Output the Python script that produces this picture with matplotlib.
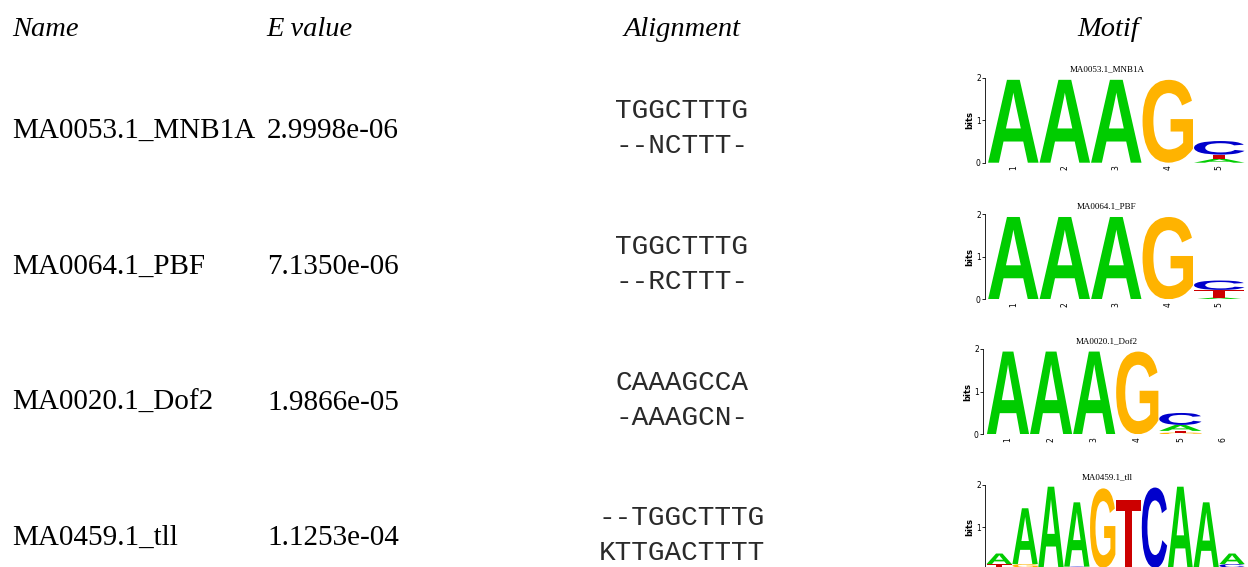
import matplotlib
matplotlib.use("Agg")
import matplotlib.pyplot as plt
from matplotlib.textpath import TextPath
from matplotlib.font_manager import FontProperties
from matplotlib.patches import PathPatch
from matplotlib.transforms import Affine2D

# ---------------- data ----------------
headers = ["Name", "E value", "Alignment", "Motif"]
names = ["MA0053.1_MNB1A", "MA0064.1_PBF", "MA0020.1_Dof2", "MA0459.1_tll"]
evalues = ["2.9998e-06", "7.1350e-06", "1.9866e-05", "1.1253e-04"]
align_query = ["TGGCTTTG", "TGGCTTTG", "CAAAGCCA", "--TGGCTTTG"]
align_target = ["--NCTTT-", "--RCTTT-", "-AAAGCN-", "KTTGACTTTT"]
motif_titles = ["MA0053.1_MNB1A", "MA0064.1_PBF", "MA0020.1_Dof2", "MA0459.1_tll"]

# letter heights (bits) per position, stacked bottom -> top
logo_mnb1a = [[("A", 1.95)], [("A", 1.95)], [("A", 1.95)], [("G", 1.95)],
              [("A", 0.09), ("T", 0.10), ("C", 0.32)]]
logo_pbf = [[("A", 1.93)], [("A", 1.93)], [("A", 1.93)], [("G", 1.93)],
            [("A", 0.04), ("T", 0.18), ("C", 0.22)]]
logo_dof2 = [[("A", 1.94)], [("A", 1.94)], [("A", 1.94)], [("G", 1.94)],
             [("G", 0.04), ("T", 0.04), ("A", 0.14), ("C", 0.28)], []]
logo_tll = [[("C", 0.02), ("G", 0.04), ("T", 0.07), ("A", 0.25)],
            [("T", 0.02), ("C", 0.03), ("G", 0.08), ("A", 1.32)],
            [("G", 0.06), ("A", 1.90)],
            [("C", 0.07), ("A", 1.52)],
            [("A", 0.04), ("G", 1.88)],
            [("C", 0.05), ("T", 1.60)],
            [("A", 0.04), ("C", 1.90)],
            [("A", 1.96)],
            [("G", 0.05), ("A", 1.54)],
            [("G", 0.02), ("T", 0.03), ("C", 0.08), ("A", 0.25)]]
logos = [logo_mnb1a, logo_pbf, logo_dof2, logo_tll]

base_colors = {"A": "#00CC00", "C": "#0000CC", "G": "#FFB300", "T": "#CC0000"}

# ---------------- layout ----------------
W, H = 1248, 567
fig = plt.figure(figsize=(W / 100, H / 100), dpi=100)
bg = fig.add_axes([0, 0, 1, 1])
bg.set_xlim(0, W)
bg.set_ylim(H, 0)
bg.axis("off")

serif = "Liberation Serif"
mono = "Liberation Mono"

header_x = [12, 266, 682, 1108]
header_ha = ["left", "left", "center", "center"]
for h, x, ha in zip(headers, header_x, header_ha):
    bg.text(x, 36, h, fontsize=20.5, family=serif, style="italic", ha=ha, va="baseline")

row_base = [138, 274, 410, 545]
for i in range(4):
    y = row_base[i]
    bg.text(12, y, names[i], fontsize=21, family=serif, ha="left", va="baseline")
    bg.text(267, y, evalues[i], fontsize=21, family=serif, ha="left", va="baseline")
    bg.text(682, y - 20, align_query[i], fontsize=20, family=mono, ha="center",
            va="baseline", color="#2a2a2a")
    bg.text(682, y + 15, align_target[i], fontsize=20, family=mono, ha="center",
            va="baseline", color="#2a2a2a")

# logo axes boxes in pixels: left, y of 2 bits, right, y of 0 bits
logo_boxes = [(985, 77.7, 1245, 162.7), (985, 214, 1245, 299.3),
              (983, 349, 1245, 434.3), (985, 485, 1245, 569.6)]
logo_xstart = [0.45, 0.45, 0.42, 0.45]

fp = FontProperties(family="Liberation Sans", weight="bold")
glyphs = {}
for b in "ACGT":
    glyphs[b] = TextPath((0, 0), b, prop=fp, size=1)


def draw_letter(ax, letter, x0, y0, w, h, color):
    tp = glyphs[letter]
    ext = tp.get_extents()
    tr = (Affine2D().translate(-ext.x0, -ext.y0)
          .scale(w / ext.width, h / ext.height).translate(x0, y0))
    path = tr.transform_path(tp)
    ax.add_patch(PathPatch(path, facecolor=color, edgecolor="none", lw=0))


for k, (logo, box) in enumerate(zip(logos, logo_boxes)):
    l, t, r, b = box
    ax = fig.add_axes([l / W, 1 - b / H, (r - l) / W, (b - t) / H])
    n = len(logo)
    ax.set_xlim(logo_xstart[k], n + 0.5)
    ax.set_ylim(0, 2)
    for s in ["top", "right", "bottom"]:
        ax.spines[s].set_visible(False)
    ax.spines["left"].set_linewidth(0.6)
    cut = (k == 3)  # last logo runs past the bottom of the figure
    if cut:
        ax.set_yticks([1, 2])
        ax.set_yticklabels(["1", "2"], fontsize=5.5)
        ax.set_xticks([])
    else:
        ax.set_yticks([0, 1, 2])
        ax.set_yticklabels(["0", "1", "2"], fontsize=5.5)
        ax.set_xticks(range(1, n + 1))
        ax.set_xticklabels([str(i) for i in range(1, n + 1)], fontsize=5.5, rotation=90)
    ax.tick_params(axis="y", length=2, width=0.6, pad=1)
    ax.tick_params(axis="x", length=0, pad=2)
    ax.set_ylabel("bits", fontsize=6, fontweight="bold", labelpad=1)
    ax.patch.set_alpha(0)
    for p, stack in enumerate(logo):
        y = 0.0
        for letter, hbits in stack:
            draw_letter(ax, letter, p + 1 - 0.49, y, 0.98, hbits, base_colors[letter])
            y += hbits
    bg.text(1107, t - 8, motif_titles[k], fontsize=6.5, family=serif,
            ha="center", va="center")

fig.savefig("out.png", dpi=100)
